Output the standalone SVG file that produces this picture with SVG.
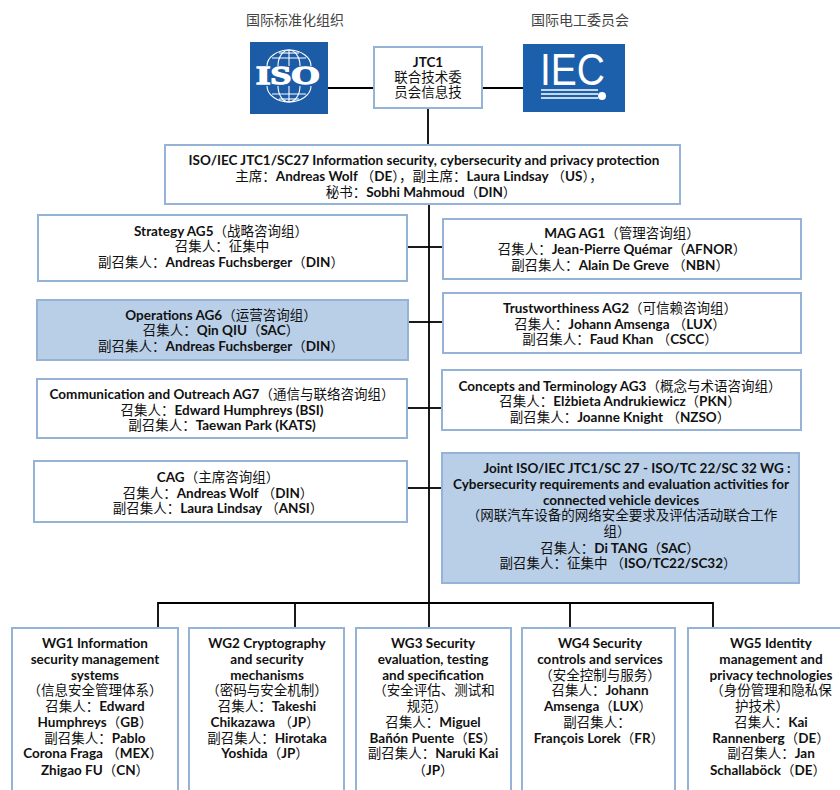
<svg xmlns="http://www.w3.org/2000/svg" width="840" height="790" viewBox="0 0 840 790">
<style>
.box{fill:#ffffff;stroke:#95b3d7;stroke-width:2}
.hl{fill:#b9cfe8}
.t{font-family:Lato,"Noto Sans CJK SC",sans-serif;font-weight:700;font-size:13.5px;fill:#111;text-anchor:middle}
.c{font-family:"Noto Sans CJK SC",sans-serif;font-weight:400}
.lbl{font-family:"Noto Sans CJK SC",sans-serif;font-size:14px;fill:#444;text-anchor:middle}
.ln{stroke:#000;stroke-width:1.8;fill:none}
.gl{stroke:#fff;stroke-width:1.1;fill:none}
</style>
<rect width="840" height="790" fill="#fff"/>

<g id="connectors">
<line class="ln" x1="328" y1="88" x2="374" y2="88"/>
<line class="ln" x1="482" y1="88" x2="523" y2="88"/>
<line class="ln" x1="428" y1="108" x2="428" y2="145"/>
<line class="ln" x1="429" y1="204" x2="429" y2="628"/>
<line class="ln" x1="407" y1="247" x2="429" y2="247"/>
<line class="ln" x1="407" y1="322" x2="429" y2="322"/>
<line class="ln" x1="407" y1="408" x2="429" y2="408"/>
<line class="ln" x1="407" y1="488" x2="429" y2="488"/>
<line class="ln" x1="429" y1="247" x2="443" y2="247"/>
<line class="ln" x1="429" y1="322" x2="443" y2="322"/>
<line class="ln" x1="429" y1="408" x2="442" y2="408"/>
<line class="ln" x1="429" y1="488" x2="442" y2="488"/>
<polyline class="ln" points="158,628 158,603 713,603 713,628"/>
<line class="ln" x1="295" y1="603" x2="295" y2="628"/>
<line class="ln" x1="570" y1="603" x2="570" y2="628"/>
</g>

<g id="iso-label"><text class="lbl" x="295" y="25">国际标准化组织</text></g>
<g id="iec-label"><text class="lbl" x="580" y="25">国际电工委员会</text></g>

<g id="iso-logo">
<rect x="250" y="42" width="78" height="72" fill="#1c5ba6"/>
<g class="gl">
<path d="M267,66 A22,16 0 0 1 311,66"/>
<path d="M278,66 A11,16 0 0 1 300,66"/>
<line x1="289" y1="50" x2="289" y2="66"/>
<line x1="272" y1="58" x2="306" y2="58"/>
<line x1="279" y1="53" x2="299" y2="53"/>
<path d="M267,86 A22,16 0 0 0 311,86"/>
<path d="M278,86 A11,16 0 0 0 300,86"/>
<line x1="289" y1="86" x2="289" y2="102"/>
<line x1="272" y1="94" x2="306" y2="94"/>
<line x1="279" y1="99" x2="299" y2="99"/>
</g>
<text x="256" y="84" font-family="'Liberation Serif',serif" font-weight="700" font-size="25" fill="#fff" stroke="#fff" stroke-width="1.3" textLength="64" lengthAdjust="spacingAndGlyphs">ISO</text>
</g>

<g id="jtc1">
<rect class="box" x="374" y="47" width="108" height="61"/>
<text class="t" x="428" y="67">JTC1</text>
<text class="t" x="428" y="82"><tspan class="c">联合技术委</tspan></text>
<text class="t" x="428" y="97"><tspan class="c">员会信息技</tspan></text>
</g>

<g id="iec-logo">
<rect x="523" y="44" width="102" height="68" fill="#1c5fab"/>
<text x="540" y="85" font-family="'Liberation Sans',sans-serif" font-weight="400" font-size="45" fill="#fff" textLength="65" lengthAdjust="spacingAndGlyphs">IEC</text>
<g stroke="#fff" stroke-width="1.5">
<line x1="541" y1="90" x2="598" y2="90"/>
<line x1="541" y1="94" x2="598" y2="94"/>
<line x1="541" y1="98" x2="598" y2="98"/>
</g>
<circle cx="602" cy="96" r="4" fill="#fff"/>
</g>

<g id="sc27">
<rect class="box" x="165" y="145" width="515" height="59"/>
<text class="t" x="424" y="165">ISO/IEC JTC1/SC27 Information security, cybersecurity and privacy protection</text>
<text class="t" x="419" y="181"><tspan class="c">主席：</tspan>Andreas Wolf <tspan class="c">（</tspan>DE<tspan class="c">），副主席：</tspan>Laura Lindsay <tspan class="c">（</tspan>US<tspan class="c">），</tspan></text>
<text class="t" x="421" y="197"><tspan class="c">秘书：</tspan>Sobhi Mahmoud<tspan class="c">（</tspan>DIN<tspan class="c">）</tspan></text>
</g>

<g id="ag5">
<rect class="box" x="38" y="215" width="369" height="66"/>
<text class="t" x="221" y="236">Strategy AG5<tspan class="c">（战略咨询组）</tspan></text>
<text class="t" x="222" y="251"><tspan class="c">召集人：征集中</tspan></text>
<text class="t" x="221" y="267"><tspan class="c">副召集人：</tspan>Andreas Fuchsberger<tspan class="c">（</tspan>DIN<tspan class="c">）</tspan></text>
</g>

<g id="ag6">
<rect class="box hl" x="37" y="300" width="371" height="60"/>
<text class="t" x="221" y="320">Operations AG6<tspan class="c">（运营咨询组）</tspan></text>
<text class="t" x="221" y="335"><tspan class="c">召集人：</tspan>Qin QIU<tspan class="c">（</tspan>SAC<tspan class="c">）</tspan></text>
<text class="t" x="221" y="351"><tspan class="c">副召集人：</tspan>Andreas Fuchsberger<tspan class="c">（</tspan>DIN<tspan class="c">）</tspan></text>
</g>

<g id="ag7">
<rect class="box" x="37" y="379" width="370" height="59"/>
<text class="t" x="222" y="399">Communication and Outreach AG7<tspan class="c">（通信与联络咨询组）</tspan></text>
<text class="t" x="222" y="415"><tspan class="c">召集人：</tspan>Edward Humphreys (BSI)</text>
<text class="t" x="222" y="430"><tspan class="c">副召集人：</tspan>Taewan Park (KATS)</text>
</g>

<g id="cag">
<rect class="box" x="34" y="461" width="373" height="61"/>
<text class="t" x="218" y="482">CAG<tspan class="c">（主席咨询组）</tspan></text>
<text class="t" x="218" y="498"><tspan class="c">召集人：</tspan>Andreas Wolf <tspan class="c">（</tspan>DIN<tspan class="c">）</tspan></text>
<text class="t" x="218" y="513"><tspan class="c">副召集人：</tspan>Laura Lindsay <tspan class="c">（</tspan>ANSI<tspan class="c">）</tspan></text>
</g>

<g id="ag1">
<rect class="box" x="443" y="219" width="358" height="60"/>
<text class="t" x="622" y="238">MAG AG1<tspan class="c">（管理咨询组）</tspan></text>
<text class="t" x="622" y="254"><tspan class="c">召集人：</tspan>Jean-Pierre Quémar<tspan class="c">（</tspan>AFNOR<tspan class="c">）</tspan></text>
<text class="t" x="620" y="270"><tspan class="c">副召集人：</tspan>Alain De Greve <tspan class="c">（</tspan>NBN<tspan class="c">）</tspan></text>
</g>

<g id="ag2">
<rect class="box" x="443" y="293" width="358" height="60"/>
<text class="t" x="620" y="313">Trustworthiness AG2<tspan class="c">（可信赖咨询组）</tspan></text>
<text class="t" x="620" y="329"><tspan class="c">召集人：</tspan>Johann Amsenga <tspan class="c">（</tspan>LUX<tspan class="c">）</tspan></text>
<text class="t" x="620" y="344"><tspan class="c">副召集人：</tspan>Faud Khan <tspan class="c">（</tspan>CSCC<tspan class="c">）</tspan></text>
</g>

<g id="ag3">
<rect class="box" x="442" y="370" width="359" height="60"/>
<text class="t" x="620" y="391">Concepts and Terminology AG3<tspan class="c">（概念与术语咨询组）</tspan></text>
<text class="t" x="620" y="406"><tspan class="c">召集人：</tspan>Elżbieta Andrukiewicz<tspan class="c">（</tspan>PKN<tspan class="c">）</tspan></text>
<text class="t" x="620" y="422"><tspan class="c">副召集人：</tspan>Joanne Knight <tspan class="c">（</tspan>NZSO<tspan class="c">）</tspan></text>
</g>

<g id="joint-wg">
<rect class="box hl" x="442" y="453" width="357" height="130"/>
<text class="t" x="637" y="473">Joint ISO/IEC JTC1/SC 27 - ISO/TC 22/SC 32 WG :</text>
<text class="t" x="621" y="489">Cybersecurity requirements and evaluation activities for</text>
<text class="t" x="621" y="505">connected vehicle devices</text>
<text class="t" x="622" y="520"><tspan class="c">（网联汽车设备的网络安全要求及评估活动联合工作</tspan></text>
<text class="t" x="617" y="536"><tspan class="c">组）</tspan></text>
<text class="t" x="620" y="553"><tspan class="c">召集人：</tspan>Di TANG<tspan class="c">（</tspan>SAC<tspan class="c">）</tspan></text>
<text class="t" x="618" y="568"><tspan class="c">副召集人：征集中 （</tspan>ISO/TC22/SC32<tspan class="c">）</tspan></text>
</g>

<g id="wg1">
<rect class="box" x="12" y="628" width="166" height="170"/>
<text class="t" x="95" y="648">WG1 Information</text>
<text class="t" x="95" y="664">security management</text>
<text class="t" x="95" y="680">systems</text>
<text class="t" x="95" y="695"><tspan class="c">（信息安全管理体系）</tspan></text>
<text class="t" x="95" y="711"><tspan class="c">召集人：</tspan>Edward</text>
<text class="t" x="95" y="727">Humphreys<tspan class="c">（</tspan>GB<tspan class="c">）</tspan></text>
<text class="t" x="95" y="743"><tspan class="c">副召集人：</tspan>Pablo</text>
<text class="t" x="93" y="758">Corona Fraga <tspan class="c">（</tspan>MEX<tspan class="c">）</tspan></text>
<text class="t" x="95" y="775">Zhigao FU<tspan class="c">（</tspan>CN<tspan class="c">）</tspan></text>
</g>

<g id="wg2">
<rect class="box" x="189" y="628" width="155" height="170"/>
<text class="t" x="267" y="648">WG2 Cryptography</text>
<text class="t" x="267" y="664">and security</text>
<text class="t" x="267" y="680">mechanisms</text>
<text class="t" x="267" y="695"><tspan class="c">（密码与安全机制）</tspan></text>
<text class="t" x="267" y="711"><tspan class="c">召集人：</tspan>Takeshi</text>
<text class="t" x="265" y="727">Chikazawa <tspan class="c">（</tspan>JP<tspan class="c">）</tspan></text>
<text class="t" x="267" y="743"><tspan class="c">副召集人：</tspan>Hirotaka</text>
<text class="t" x="265" y="758">Yoshida<tspan class="c">（</tspan>JP<tspan class="c">）</tspan></text>
</g>

<g id="wg3">
<rect class="box" x="356" y="628" width="155" height="170"/>
<text class="t" x="433" y="648">WG3 Security</text>
<text class="t" x="433" y="664">evaluation, testing</text>
<text class="t" x="433" y="680">and specification</text>
<text class="t" x="434" y="695"><tspan class="c">（安全评估、测试和</tspan></text>
<text class="t" x="427" y="711"><tspan class="c">规范）</tspan></text>
<text class="t" x="433" y="727"><tspan class="c">召集人：</tspan>Miguel</text>
<text class="t" x="433" y="743">Bañón Puente<tspan class="c">（</tspan>ES<tspan class="c">）</tspan></text>
<text class="t" x="433" y="758"><tspan class="c">副召集人：</tspan>Naruki Kai</text>
<text class="t" x="433" y="775"><tspan class="c">（</tspan>JP<tspan class="c">）</tspan></text>
</g>

<g id="wg4">
<rect class="box" x="522" y="628" width="153" height="170"/>
<text class="t" x="600" y="648">WG4 Security</text>
<text class="t" x="600" y="664">controls and services</text>
<text class="t" x="600" y="680"><tspan class="c">（安全控制与服务）</tspan></text>
<text class="t" x="600" y="695"><tspan class="c">召集人：</tspan>Johann</text>
<text class="t" x="598" y="711">Amsenga<tspan class="c">（</tspan>LUX<tspan class="c">）</tspan></text>
<text class="t" x="597" y="727"><tspan class="c">副召集人：</tspan></text>
<text class="t" x="599" y="743">François Lorek<tspan class="c">（</tspan>FR<tspan class="c">）</tspan></text>
</g>

<g id="wg5">
<rect class="box" x="688" y="628" width="170" height="170"/>
<text class="t" x="771" y="648">WG5 Identity</text>
<text class="t" x="771" y="664">management and</text>
<text class="t" x="771" y="680">privacy technologies</text>
<text class="t" x="771" y="695"><tspan class="c">（身份管理和隐私保</tspan></text>
<text class="t" x="762" y="711"><tspan class="c">护技术）</tspan></text>
<text class="t" x="771" y="727"><tspan class="c">召集人：</tspan>Kai</text>
<text class="t" x="771" y="743">Rannenberg<tspan class="c">（</tspan>DE<tspan class="c">）</tspan></text>
<text class="t" x="771" y="758"><tspan class="c">副召集人：</tspan>Jan</text>
<text class="t" x="768" y="775">Schallaböck<tspan class="c">（</tspan>DE<tspan class="c">）</tspan></text>
</g>
</svg>
